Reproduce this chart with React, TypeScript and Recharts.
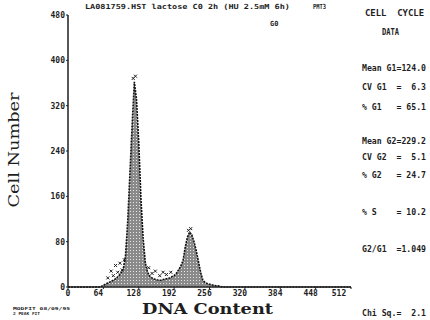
import React from "react";
import { ComposedChart, Area, Scatter, XAxis, YAxis } from "recharts";

// DNA channel step of the histogram bins
const CHANNEL_STEP = 4;
// Cell counts per channel (0, 4, 8, ... 512)
const COUNTS = [
  0, 0, 0, 0, 0, 0, 0, 0, 0, 0, 0, 0, 0, 0, 0,
  1, 3, 5, 7, 9, 11, 13, 16, 20, 25, 32, 55, 115, 200, 285, 362, 330, 255, 155, 85, 42,
  26, 19, 16, 14, 13, 12, 12, 13, 14, 15, 16, 18, 20, 24, 30, 37, 46, 70, 88, 97, 92, 80,
  64, 45, 26, 12, 8, 6, 5, 4, 3, 2, 2, 1,
  0, 0, 0, 0, 0, 0, 0, 0, 0, 0, 0, 0, 0, 0, 0, 0, 0, 0, 0, 0,
  0, 0, 0, 0, 0, 0, 0, 0, 0, 0, 0, 0, 0, 0, 0, 0, 0, 0, 0, 0,
  0, 0, 0, 0, 0, 0, 0, 0, 0, 0, 0, 0, 0, 0, 0, 0, 0, 0, 0,
];
// Scattered debris / raw points
const DEBRIS_CH = [72, 78, 82, 86, 90, 94, 98, 102, 118, 122, 146, 152, 158, 166, 172, 178, 186, 218, 222];
const DEBRIS_VAL = [16, 28, 20, 38, 26, 42, 30, 48, 368, 372, 34, 24, 28, 20, 26, 22, 26, 100, 103];

const X_TICKS = [0, 64, 128, 192, 256, 320, 384, 448, 512];
const Y_TICKS = [0, 80, 160, 240, 320, 400, 480];

const TITLE = "LA081759.HST lactose C0 2h (HU 2.5mM 6h)";
const PMT = "PMT3";
const GATE = "G0";
const PANEL_HEAD = ["CELL  CYCLE", "DATA"];
const STATS = [
  "Mean G1=124.0",
  "CV G1  =  6.3",
  "% G1   = 65.1",
  "Mean G2=229.2",
  "CV G2  =  5.1",
  "% G2   = 24.7",
  "% S    = 10.2",
  "G2/G1  =1.049",
  "Chi Sq.=  2.1",
];
const STATS_Y = [68, 87, 107, 141, 157, 175, 212, 249, 313];

const data = COUNTS.map((c, i) => ({ ch: i * CHANNEL_STEP, count: c }));
const debris = DEBRIS_CH.map((c, i) => ({ ch: c, count: DEBRIS_VAL[i] }));

const MONO = "'DejaVu Sans Mono', monospace";
const INK = "#1e1e1e";

const XTick = (props: any) => {
  const { x, y, payload } = props;
  const v = payload.value;
  const dx = v === 0 ? 0 : v === 512 ? -12 : -5;
  return (
    <text x={x + dx} y={y + 5} textAnchor="middle" fontFamily={MONO} fontWeight="bold" fontSize={8} fill={INK}>
      {v}
    </text>
  );
};

const YTick = (props: any) => {
  const { x, y, payload } = props;
  return (
    <text x={x + 1} y={y + 3} textAnchor="end" fontFamily={MONO} fontWeight="bold" fontSize={8} fill={INK}>
      {payload.value}
    </text>
  );
};

const Empty = () => <g />;

const Cross = (props: any) => {
  const { cx, cy } = props;
  return (
    <g stroke={INK} strokeWidth={1}>
      <line x1={cx - 1.5} y1={cy - 1.5} x2={cx + 1.5} y2={cy + 1.5} />
      <line x1={cx - 1.5} y1={cy + 1.5} x2={cx + 1.5} y2={cy - 1.5} />
    </g>
  );
};

const axisLine = { stroke: INK, strokeWidth: 1.5 };
const tickLine = { stroke: INK, strokeWidth: 1 };

export default function App() {
  return (
    <div style={{ position: "absolute", left: 0, top: 0, width: 430, height: 320, background: "#fff" }}>
      <ComposedChart width={430} height={320} data={data} margin={{ top: 15, right: 79, left: 0, bottom: 0 }}>
        <defs>
          <pattern id="stip" width="3" height="3" patternUnits="userSpaceOnUse">
            <rect width="3" height="3" fill="#8a8a8a" />
            <rect x="1" y="1" width="1" height="1" fill="#e6e6e6" />
          </pattern>
        </defs>
        <XAxis
          xAxisId="bottom"
          dataKey="ch"
          type="number"
          domain={[0, 512]}
          ticks={X_TICKS}
          interval={0}
          height={33}
          axisLine={axisLine}
          tickLine={tickLine}
          tickSize={2}
          tick={<XTick />}
        />
        <XAxis
          xAxisId="top"
          dataKey="ch"
          orientation="top"
          type="number"
          domain={[0, 512]}
          ticks={X_TICKS}
          interval={0}
          height={0}
          axisLine={axisLine}
          tickLine={tickLine}
          tickSize={3}
          tick={<Empty />}
        />
        <YAxis
          yAxisId="left"
          type="number"
          domain={[0, 480]}
          ticks={Y_TICKS}
          interval={0}
          width={68}
          axisLine={axisLine}
          tickLine={tickLine}
          tickSize={2}
          tick={<YTick />}
        />
        <YAxis
          yAxisId="right"
          orientation="right"
          type="number"
          domain={[0, 480]}
          ticks={Y_TICKS}
          interval={0}
          width={0}
          axisLine={axisLine}
          tickLine={tickLine}
          tickSize={3}
          tick={<Empty />}
        />
        <Area
          xAxisId="bottom"
          yAxisId="left"
          type="linear"
          dataKey="count"
          stroke="#111"
          strokeWidth={1.6}
          strokeDasharray="2 1"
          fill="url(#stip)"
          fillOpacity={1}
          isAnimationActive={false}
          dot={false}
          activeDot={false}
        />
        <Scatter
          xAxisId="bottom"
          yAxisId="left"
          data={debris}
          dataKey="count"
          shape={<Cross />}
          isAnimationActive={false}
        />
      </ComposedChart>
      <svg width={430} height={320} style={{ position: "absolute", left: 0, top: 0, pointerEvents: "none" }}>
        <text x={85} y={8.5} fontFamily={MONO} fontWeight="bold" fontSize={7} fill={INK} textLength={205} lengthAdjust="spacingAndGlyphs">
          {TITLE}
        </text>
        <text x={313} y={8.5} fontFamily={MONO} fontWeight="bold" fontSize={7} fill={INK} textLength={13} lengthAdjust="spacingAndGlyphs">
          {PMT}
        </text>
        <text x={270} y={25.5} fontFamily={MONO} fontWeight="bold" fontSize={7} fill={INK}>
          {GATE}
        </text>
        <text x={365} y={16} fontFamily={MONO} fontWeight="bold" fontSize={8} fill={INK} textLength={59} lengthAdjust="spacingAndGlyphs" style={{ whiteSpace: "pre" }}>
          {PANEL_HEAD[0]}
        </text>
        <text x={382} y={35} fontFamily={MONO} fontWeight="bold" fontSize={8} fill={INK} textLength={17} lengthAdjust="spacingAndGlyphs">
          {PANEL_HEAD[1]}
        </text>
        {STATS.map((s, i) => (
          <text
            key={i}
            x={362}
            y={STATS_Y[i] + 3}
            fontFamily={MONO}
            fontWeight="bold"
            fontSize={8}
            fill={INK}
            textLength={64}
            lengthAdjust="spacingAndGlyphs"
            style={{ whiteSpace: "pre" }}
          >
            {s}
          </text>
        ))}
        <text
          x={0}
          y={0}
          transform="translate(19,150) rotate(-90)"
          textAnchor="middle"
          fontFamily="'DejaVu Serif', serif"
          fontSize={14}
          fill={INK}
          textLength={115}
          lengthAdjust="spacingAndGlyphs"
        >
          Cell Number
        </text>
        <text
          x={142}
          y={314}
          fontFamily="'DejaVu Serif', serif"
          fontWeight="bold"
          fontSize={15}
          fill={INK}
          textLength={131}
          lengthAdjust="spacingAndGlyphs"
        >
          DNA Content
        </text>
        <text x={13} y={310} fontFamily={MONO} fontWeight="bold" fontSize={4} fill={INK} textLength={57} lengthAdjust="spacingAndGlyphs">
          MODFIT   08/09/95
        </text>
        <text x={13} y={315} fontFamily={MONO} fontWeight="bold" fontSize={4} fill={INK} textLength={27} lengthAdjust="spacingAndGlyphs">
          2 PEAK FIT
        </text>
      </svg>
    </div>
  );
}
